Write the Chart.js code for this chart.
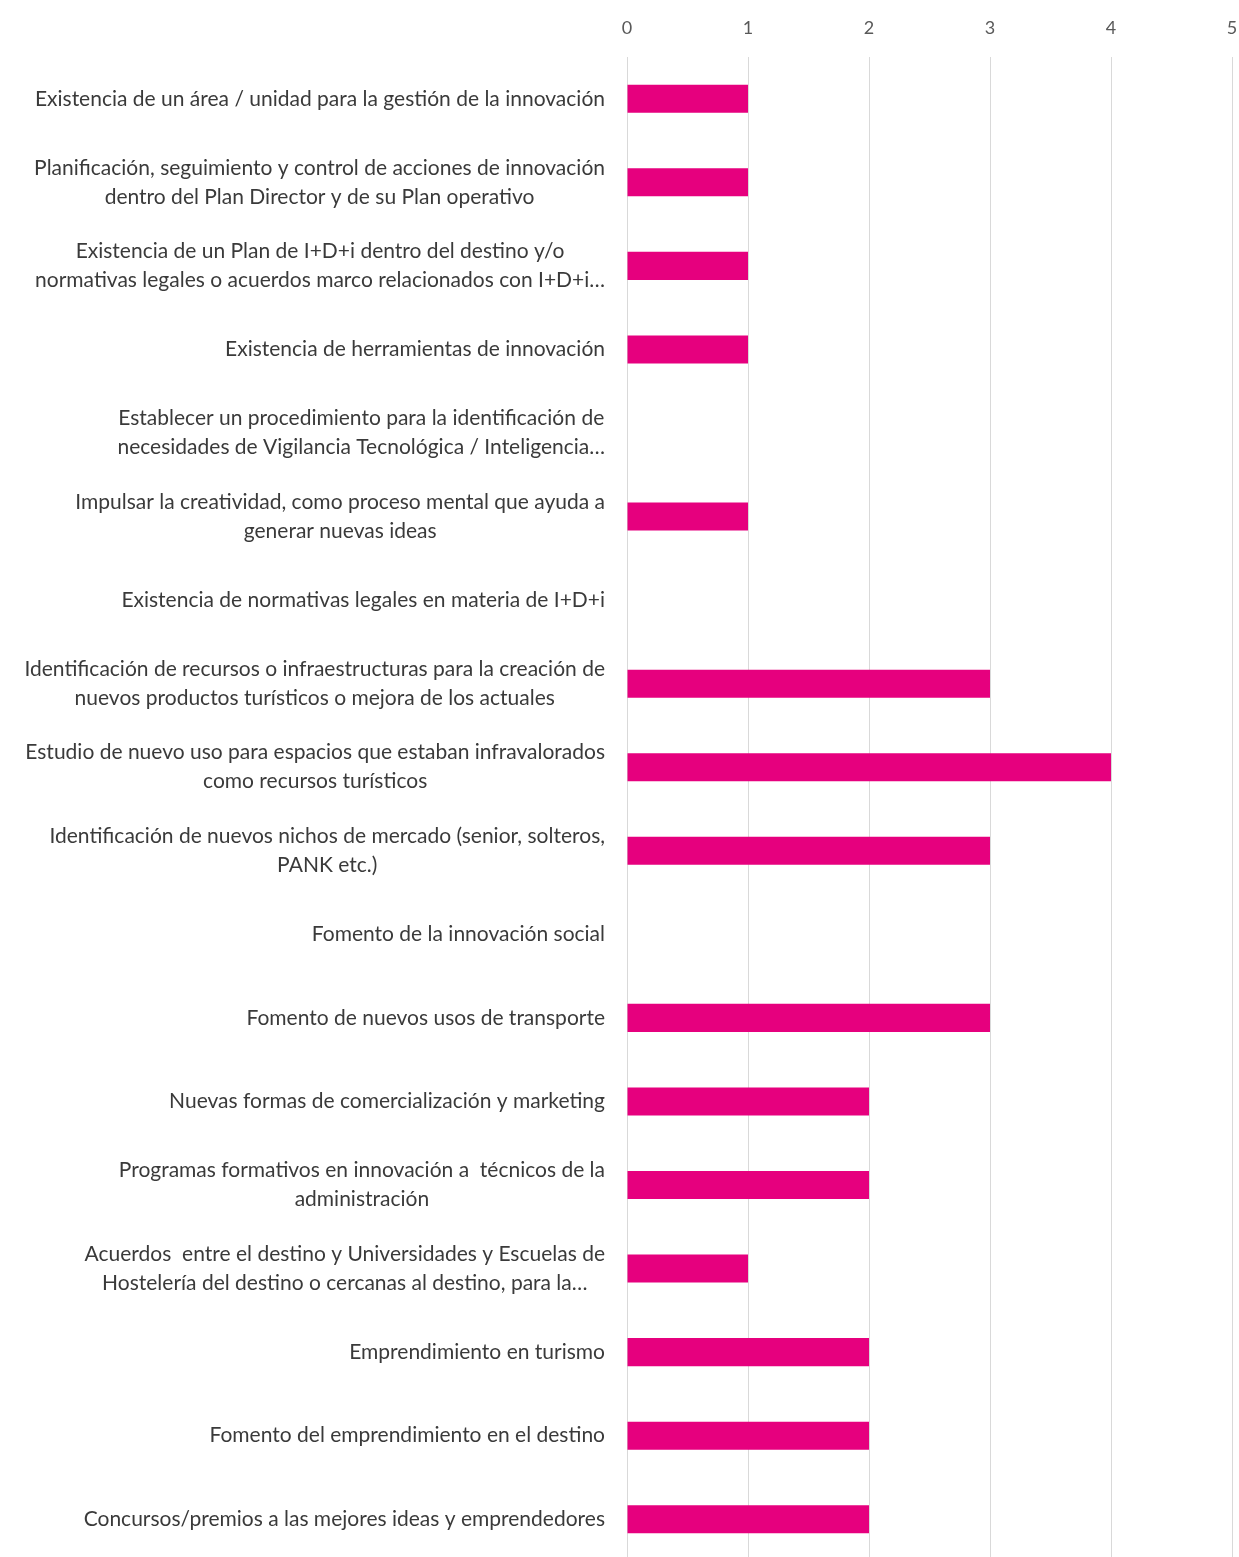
<!DOCTYPE html>
<html lang="es">
<head>
<meta charset="utf-8">
<title>Acciones de innovación</title>
<script src="https://cdn.jsdelivr.net/npm/chart.js"></script>
<style>
	html, body { margin: 0; padding: 0; background: #fff; overflow: hidden; }
	.canvas_div { width: 1239px; height: 1561px; }
</style>
</head>
<body>
<div class="canvas_div">
	<canvas id="myChart"></canvas>
</div>
<script>
// categorías (una línea o dos)
const labels = [
	'Existencia de un área / unidad para la gestión de la innovación',
	['Planificación, seguimiento y control de acciones de innovación', 'dentro del Plan Director y de su Plan operativo'],
	['Existencia de un Plan de I+D+i dentro del destino y/o', 'normativas legales o acuerdos marco relacionados con I+D+i…'],
	'Existencia de herramientas de innovación',
	['Establecer un procedimiento para la identificación de', 'necesidades de Vigilancia Tecnológica / Inteligencia…'],
	['Impulsar la creatividad, como proceso mental que ayuda a', 'generar nuevas ideas'],
	'Existencia de normativas legales en materia de I+D+i',
	['Identificación de recursos o infraestructuras para la creación de', 'nuevos productos turísticos o mejora de los actuales'],
	['Estudio de nuevo uso para espacios que estaban infravalorados', 'como recursos turísticos'],
	['Identificación de nuevos nichos de mercado (senior, solteros,', 'PANK etc.)'],
	'Fomento de la innovación social',
	'Fomento de nuevos usos de transporte',
	'Nuevas formas de comercialización y marketing',
	['Programas formativos en innovación a  técnicos de la', 'administración'],
	['Acuerdos  entre el destino y Universidades y Escuelas de', 'Hostelería del destino o cercanas al destino, para la…'],
	'Emprendimiento en turismo',
	'Fomento del emprendimiento en el destino',
	'Concursos/premios a las mejores ideas y emprendedores'
];

// número de respuestas
const values = [1, 1, 1, 1, 0, 1, 0, 3, 4, 3, 0, 3, 2, 2, 1, 2, 2, 2];

// eje x
const xTicks = [0, 1, 2, 3, 4, 5];

const LABEL_FONT = '21px Lato, "Open Sans", sans-serif';
const LABEL_LINE = 29;

// etiquetas de categoría: bloque alineado a la derecha, líneas centradas
const blockLabels = {
	id: 'blockLabels',
	afterDraw(chart){
		const ctx = chart.ctx;
		const yScale = chart.scales.y;
		const right = chart.chartArea.left - 22;
		ctx.save();
		ctx.font = LABEL_FONT;
		ctx.fillStyle = '#3a3a3a';
		ctx.textAlign = 'center';
		ctx.textBaseline = 'middle';
		chart.data.labels.forEach(function(lab, i){
			const lines = [].concat(lab);
			const w = Math.max.apply(null, lines.map(l => ctx.measureText(l).width));
			const cx = right - w / 2;
			const cy = yScale.getPixelForValue(i);
			lines.forEach(function(l, k){
				ctx.fillText(l, cx, cy + (k - (lines.length - 1) / 2) * LABEL_LINE);
			});
		});
		ctx.restore();
	}
};

const chart_data = {
	labels: labels,
	datasets: [{
		label: 'Respuestas',
		data: values,
		backgroundColor: '#E6007E',
		borderWidth: 0,
		categoryPercentage: 0.8,
		barPercentage: 0.42
	}]
};

const config = {
	type: 'bar',
	data: chart_data,
	options: {
		indexAxis: 'y',
		responsive: true,
		maintainAspectRatio: false,
		animation: false,
		layout: { padding: { left: 627, right: 7, top: 17, bottom: 0 } },
		plugins: {
			legend: { display: false },
			tooltip: { enabled: false }
		},
		scales: {
			x: {
				position: 'top',
				min: xTicks[0],
				max: xTicks[xTicks.length - 1],
				afterBuildTicks: function(scale){
					scale.ticks = xTicks.map(v => ({ value: v }));
				},
				afterFit: function(scale){
					scale.height = 40;
					scale.paddingLeft = 0;
					scale.paddingRight = 0;
				},
				grid: { color: '#d9d9d9', lineWidth: 1, drawTicks: false },
				border: { display: false },
				ticks: {
					padding: 18,
					color: '#595959',
					font: { family: 'Lato, "Open Sans", sans-serif', size: 18 }
				}
			},
			y: {
				display: false
			}
		}
	},
	plugins: [blockLabels]
};

var myChart = new Chart(document.getElementById('myChart'), config);
</script>
</body>
</html>
